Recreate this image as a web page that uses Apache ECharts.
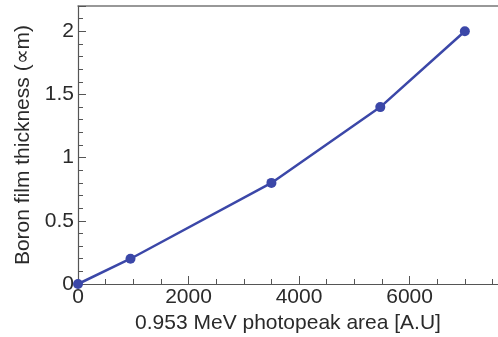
<!DOCTYPE html>
<html>
<head>
<meta charset="utf-8">
<script src="https://cdn.jsdelivr.net/npm/echarts@6/dist/echarts.min.js"></script>
<style>
  html, body { margin: 0; padding: 0; background: #fff; }
  #chart { width: 498px; height: 337px; }
</style>
</head>
<body>
<div id="chart"></div>
<script>
// Photopeak area vs. boron film thickness calibration
const photopeakArea = [0, 950, 3500, 5470, 7000];
const thickness = [0, 0.2, 0.8, 1.4, 2.0];
const xTickLabels = ['0', '2000', '4000', '6000'];
const yTickLabels = ['0', '0.5', '1', '1.5', '2'];

const lineColor = '#3b47a8';
const axisColor = '#555';
const textColor = '#2a2a2a';
const font = '"Liberation Sans", Arial, sans-serif';

const points = photopeakArea.map((x, i) => [x, thickness[i]]);

const chart = echarts.init(document.getElementById('chart'), null, { renderer: 'canvas' });
chart.setOption({
  animation: false,
  backgroundColor: '#fff',
  grid: { left: 78, right: 0, top: 6, bottom: 53, containLabel: false, outerBoundsMode: 'none' },
  xAxis: [{
    type: 'value',
    min: 0,
    max: 7600,
    interval: 2000,
    name: '0.953 MeV photopeak area [A.U]',
    nameLocation: 'middle',
    nameGap: 26,
    nameTextStyle: { fontFamily: font, fontSize: 21, color: textColor },
    axisLine: { show: true, lineStyle: { color: axisColor, width: 1.2 } },
    axisTick: { show: true, inside: true, length: 8, lineStyle: { color: axisColor } },
    minorTick: { show: true, inside: true, splitNumber: 4, length: 5, lineStyle: { color: axisColor } },
    splitLine: { show: false },
    axisLabel: {
      fontFamily: font, fontSize: 21, color: textColor, margin: 3,
      showMaxLabel: false,
      formatter: v => xTickLabels[v / 2000] ?? ''
    }
  }, {
    type: 'value',
    position: 'top',
    min: 0,
    max: 7600,
    axisLine: { show: true, lineStyle: { color: '#777', width: 1.5 } },
    axisTick: { show: false },
    axisLabel: { show: false },
    splitLine: { show: false }
  }],
  yAxis: {
    type: 'value',
    min: 0,
    max: 2.2,
    interval: 0.5,
    name: 'Boron film thickness (\u221Dm)',
    nameLocation: 'middle',
    nameGap: 40,
    nameTextStyle: { fontFamily: font, fontSize: 21, color: textColor },
    axisLine: { show: true, lineStyle: { color: axisColor, width: 1.2 } },
    axisTick: { show: true, inside: true, length: 8, lineStyle: { color: axisColor } },
    minorTick: { show: true, inside: true, splitNumber: 5, length: 5, lineStyle: { color: axisColor } },
    splitLine: { show: false },
    axisLabel: {
      fontFamily: font, fontSize: 21, color: textColor, margin: 4,
      showMaxLabel: false,
      formatter: v => yTickLabels[Math.round(v / 0.5)] ?? ''
    }
  },
  series: [{
    type: 'line',
    data: points,
    symbol: 'circle',
    symbolSize: 10,
    lineStyle: { color: lineColor, width: 2.5 },
    itemStyle: { color: lineColor },
    clip: false
  }]
});
</script>
</body>
</html>
